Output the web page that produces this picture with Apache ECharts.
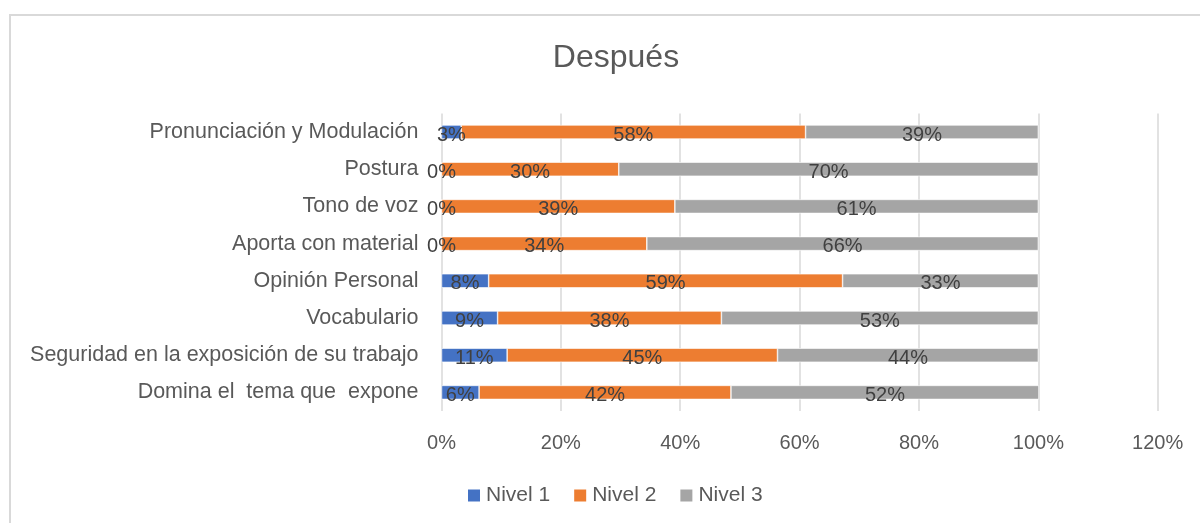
<!DOCTYPE html>
<html>
<head>
<meta charset="utf-8">
<script src="https://cdn.jsdelivr.net/npm/echarts@6/dist/echarts.min.js"></script>
<style>
  html, body { margin: 0; padding: 0; background: #fff; overflow: hidden; }
  #frame { position: absolute; left: 9px; top: 14px; width: 1400px; height: 700px; border: 2px solid #d9d9d9; box-sizing: border-box; }
  #main { position: absolute; left: 0; top: 0; width: 1200px; height: 523px; }
</style>
</head>
<body>
<div id="frame"></div>
<div id="main"></div>
<script>
// categories, bottom to top as on the y axis
const categories = [
  "Domina el  tema que  expone",
  "Seguridad en la exposición de su trabajo",
  "Vocabulario",
  "Opinión Personal",
  "Aporta con material",
  "Tono de voz",
  "Postura",
  "Pronunciación y Modulación"
];
const nivel1 = [0.063, 0.11, 0.094, 0.079, 0, 0, 0, 0.033];
const nivel2 = [0.422, 0.453, 0.375, 0.593, 0.344, 0.391, 0.297, 0.577];
const nivel3 = [0.516, 0.437, 0.531, 0.328, 0.656, 0.609, 0.703, 0.39];
const seriesNames = ["Nivel 1", "Nivel 2", "Nivel 3"];
const xTicks = [0, 0.2, 0.4, 0.6, 0.8, 1.0, 1.2];

const font = "Liberation Sans";
const pct = v => Math.round(v * 100) + "%";

function barSeries(name, data) {
  return {
    name: name,
    type: "bar",
    stack: "total",
    barWidth: 14,
    data: data,
    itemStyle: { borderColor: "#fff", borderWidth: 0.6 },
    label: {
      show: true,
      position: "inside",
      offset: [0, 3],
      color: "#404040",
      fontFamily: font,
      fontSize: 20,
      textBorderWidth: 0,
      formatter: p => pct(p.value)
    },
    emphasis: { disabled: true }
  };
}

const chart = echarts.init(document.getElementById("main"), null, { renderer: "canvas" });
const option = {
  animation: false,
  backgroundColor: "transparent",
  color: ["#4472C4", "#ED7D31", "#A5A5A5"],
  title: {
    text: "Después",
    left: 611,
    textAlign: "center",
    top: 37,
    textStyle: { color: "#595959", fontFamily: font, fontSize: 32, fontWeight: "normal" }
  },
  legend: {
    data: seriesNames,
    left: 466,
    top: 485,
    padding: 0,
    icon: "rect",
    itemWidth: 14,
    itemHeight: 14,
    itemGap: 22,
    textStyle: { color: "#595959", fontFamily: font, fontSize: 21 }
  },
  grid: { left: 441.5, right: 42.3, top: 113.4, bottom: 112, containLabel: false },
  xAxis: {
    type: "value",
    min: xTicks[0],
    max: xTicks[xTicks.length - 1],
    interval: 0.2,
    axisLine: { show: false },
    axisTick: { show: false },
    axisLabel: { color: "#595959", fontFamily: font, fontSize: 20, margin: 22, formatter: v => pct(v) },
    splitLine: { show: true, lineStyle: { color: "#d9d9d9", width: 1.5 } }
  },
  yAxis: {
    type: "category",
    data: categories,
    axisLine: { show: false },
    axisTick: { show: false },
    axisLabel: { color: "#595959", fontFamily: font, fontSize: 21.5, margin: 23 }
  },
  series: [
    barSeries(seriesNames[0], nivel1),
    barSeries(seriesNames[1], nivel2),
    barSeries(seriesNames[2], nivel3)
  ]
};
chart.setOption(option);
</script>
</body>
</html>
